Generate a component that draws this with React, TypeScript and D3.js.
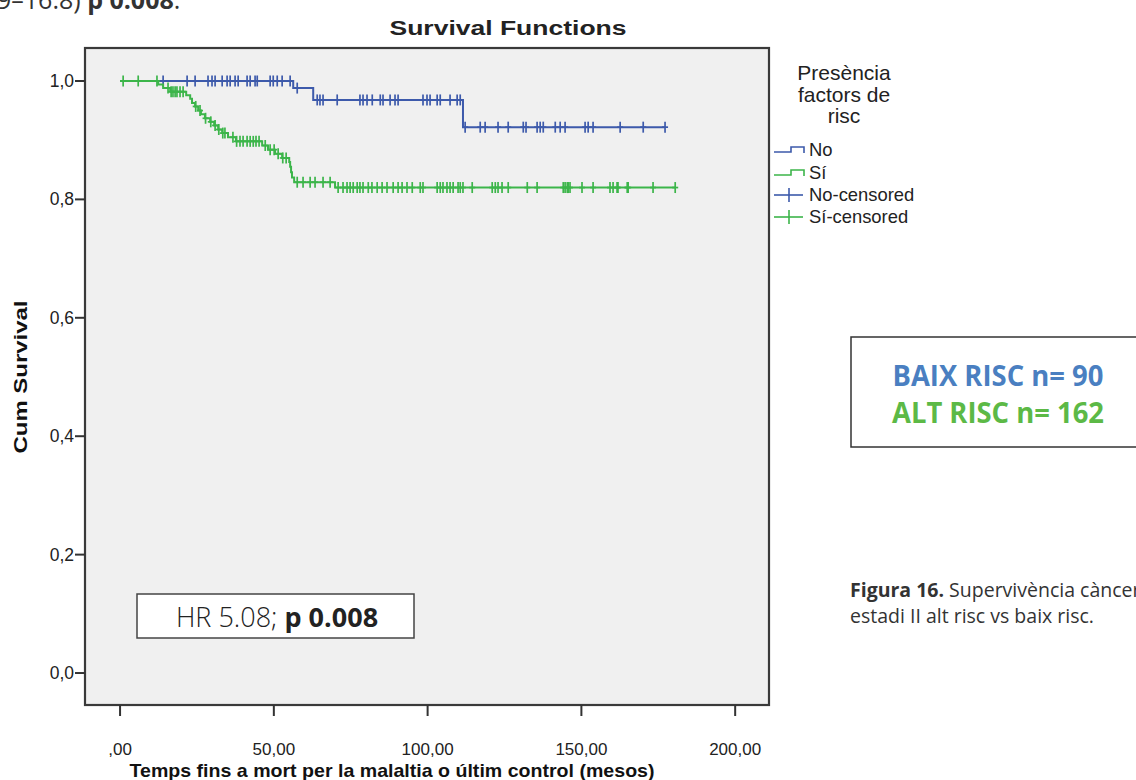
import React from "react";
import * as d3 from "d3";

// ---- Data ----
const blueTimes = [0, 56.3, 62.8, 111.5];
const blueSurv = [1, 0.988, 0.968, 0.922];
const blueLastTime = 177.2;
const blueCensored = [
  14.0, 21.8, 24.4, 28.6, 29.9, 30.9, 33.2, 34.8, 35.8, 37.4, 38.4, 41.3, 42.3, 43.9, 44.6, 48.8, 49.8, 51.1, 52.7, 55.3,
  57.6,
  64.1, 65.0, 66.0, 70.6, 78.0, 79.0, 80.3, 82.0, 84.6, 85.5, 87.8, 89.4, 90.4, 98.5, 99.8, 100.8, 103.1, 104.1, 107.3, 109.6, 110.6,
  112.2, 117.1, 118.7, 122.9, 126.2, 131.1, 132.0, 135.6, 136.6, 137.6, 141.5, 143.1, 144.7, 151.2, 152.2, 153.8, 162.6, 170.1, 177.2,
];

const greenTimes = [0, 12.4, 14.0, 16.3, 21.5, 22.8, 23.4, 24.4, 25.4, 26.3, 27.6, 29.3, 30.6, 31.9, 33.2, 35.1, 37.7, 46.2, 48.1, 50.4, 52.7, 55.0, 55.3, 55.6, 55.9, 56.6, 69.9];
const greenSurv = [1, 0.994, 0.988, 0.982, 0.976, 0.970, 0.963, 0.957, 0.950, 0.944, 0.937, 0.931, 0.925, 0.918, 0.912, 0.905, 0.898, 0.891, 0.884, 0.877, 0.870, 0.863, 0.855, 0.846, 0.837, 0.829, 0.820];
const greenLastTime = 180.5;
const greenCensored = [
  1.0, 5.9, 12.0,
  15.6, 16.6, 17.2, 17.9, 18.5, 19.5, 20.5,
  24.6, 26.0, 27.8, 29.5, 30.9, 32.1, 33.4, 34.1,
  36.7, 37.9, 39.0, 40.0, 41.3, 42.3, 43.3, 44.2, 45.2,
  47.2, 48.8, 50.1, 51.4, 52.9, 54.0,
  57.6, 59.5, 61.8, 63.4, 66.0, 68.3,
  70.9, 72.5, 73.8, 74.8, 75.8, 77.1, 78.0, 79.0, 80.7, 81.9, 83.6, 85.2, 86.8, 88.8, 90.4, 91.7, 93.3, 95.0, 97.6, 98.5,
  103.1, 104.1, 105.0, 106.3, 107.3, 108.3, 109.9, 110.6, 111.5, 114.5, 121.0, 122.0, 122.9, 124.2, 126.2, 132.4, 135.6,
  144.1, 144.7, 145.4, 145.7, 146.3, 150.2, 153.8, 159.3, 160.3, 161.6, 161.9, 164.9, 165.2, 173.3, 180.5,
];

const xTicks = [0, 50, 100, 150, 200];
const xTickLabels = [",00", "50,00", "100,00", "150,00", "200,00"];
const yTicks = [0, 0.2, 0.4, 0.6, 0.8, 1.0];
const yTickLabels = ["0,0", "0,2", "0,4", "0,6", "0,8", "1,0"];

const legendTitle = ["Presència", "factors de", "risc"];
const legendItems = ["No", "Sí", "No-censored", "Sí-censored"];

const BLUE = "#3d5aab";
const GREEN = "#3cb54a";
const SPSS = "'Liberation Sans', Arial, sans-serif";
const MYRIAD = "'Open Sans', 'Noto Sans', sans-serif";

const x = d3.scaleLinear().domain([-11.4, 211.0]).range([85, 769]);
const y = d3.scaleLinear().domain([-0.054, 1.0557]).range([705, 48]);

function survAt(times: number[], surv: number[], t: number) {
  const i = d3.bisectRight(times, t) - 1;
  return surv[Math.max(0, i)];
}

function stepPath(times: number[], surv: number[], last: number) {
  const pts: [number, number][] = times.map((t, i) => [t, surv[i]]);
  pts.push([last, surv[surv.length - 1]]);
  const line = d3
    .line<[number, number]>()
    .x((d) => x(d[0]))
    .y((d) => y(d[1]))
    .curve(d3.curveStepAfter);
  return line(pts) || "";
}

function Censors({ times, surv, cens, color }: { times: number[]; surv: number[]; cens: number[]; color: string }) {
  return (
    <g stroke={color} strokeWidth={1.7}>
      {cens.map((t, i) => {
        const cx = x(t);
        const cy = y(survAt(times, surv, t));
        return (
          <g key={i}>
            <line x1={cx} x2={cx} y1={cy - 5.5} y2={cy + 5.5} />
            <line x1={cx - 3} x2={cx + 3} y1={cy} y2={cy} />
          </g>
        );
      })}
    </g>
  );
}

export default function App() {
  React.useEffect(() => {
    document.body.style.margin = "0";
  }, []);
  const [x0, x1] = x.range();
  const [yb, yt] = y.range();
  const legendColors = [BLUE, GREEN, BLUE, GREEN];
  const legendBase = [156, 179, 201, 223];
  return (
    <svg width={1136} height={780} style={{ position: "absolute", left: 0, top: 0, background: "#fff" }}>
      {/* cropped text from page above */}
      <text x={-3} y={9} fontFamily={MYRIAD} fontSize={25} fill="#333">
        9–16.8) <tspan fontWeight="bold">p 0.008</tspan>.
      </text>

      {/* title */}
      <text x={508} y={35} textAnchor="middle" fontFamily={SPSS} fontWeight="bold" fontSize={20} textLength={237} lengthAdjust="spacingAndGlyphs" fill="#222">
        Survival Functions
      </text>

      {/* plot area */}
      <rect x={x0} y={yt} width={x1 - x0} height={yb - yt} fill="#f0f0f0" stroke="#3a3a3a" strokeWidth={2.2} />

      {/* y axis ticks */}
      {yTicks.map((v, i) => (
        <g key={i}>
          <line x1={x0 - 10} x2={x0} y1={y(v)} y2={y(v)} stroke="#333" strokeWidth={2} />
          <text x={x0 - 11} y={y(v) + 6} textAnchor="end" fontFamily={SPSS} fontSize={17.5} fill="#222">
            {yTickLabels[i]}
          </text>
        </g>
      ))}
      {/* x axis ticks */}
      {xTicks.map((v, i) => (
        <g key={i}>
          <line x1={x(v)} x2={x(v)} y1={yb} y2={yb + 11} stroke="#333" strokeWidth={2} />
          <text x={x(v)} y={yb + 50} textAnchor="middle" fontFamily={SPSS} fontSize={17} fill="#222">
            {xTickLabels[i]}
          </text>
        </g>
      ))}

      {/* axis titles */}
      <text transform="translate(27,377) rotate(-90)" textAnchor="middle" fontFamily={SPSS} fontWeight="bold" fontSize={19} textLength={153} lengthAdjust="spacingAndGlyphs" fill="#111">
        Cum Survival
      </text>
      <text x={392} y={777} textAnchor="middle" fontFamily={SPSS} fontWeight="bold" fontSize={18.5} textLength={525} lengthAdjust="spacingAndGlyphs" fill="#111">
        Temps fins a mort per la malaltia o últim control (mesos)
      </text>

      {/* curves */}
      <path d={stepPath(blueTimes, blueSurv, blueLastTime)} fill="none" stroke={BLUE} strokeWidth={2} />
      <Censors times={blueTimes} surv={blueSurv} cens={blueCensored} color={BLUE} />
      <path d={stepPath(greenTimes, greenSurv, greenLastTime)} fill="none" stroke={GREEN} strokeWidth={2} />
      <Censors times={greenTimes} surv={greenSurv} cens={greenCensored} color={GREEN} />

      {/* legend */}
      {legendTitle.map((s, i) => (
        <text key={i} x={844} y={80 + i * 21.5} textAnchor="middle" fontFamily={SPSS} fontSize={21} fill="#222">
          {s}
        </text>
      ))}
      {legendItems.map((s, i) => {
        const by = legendBase[i];
        const cy = by - 6;
        const c = legendColors[i];
        return (
          <g key={i}>
            {i < 2 ? (
              <path d={`M774,${cy + 2} H791 V${cy - 3} H804 V${cy + 3}`} fill="none" stroke={c} strokeWidth={1.6} />
            ) : (
              <g stroke={c} strokeWidth={1.6}>
                <line x1={774} x2={803} y1={cy} y2={cy} />
                <line x1={789} x2={789} y1={cy - 7} y2={cy + 7} />
              </g>
            )}
            <text x={809} y={by} fontFamily={SPSS} fontSize={18.4} fill="#222">
              {s}
            </text>
          </g>
        );
      })}

      {/* HR box */}
      <rect x={137} y={594} width={277} height={44} fill="#fff" stroke="#444" strokeWidth={1.5} />
      <text x={277} y={627} textAnchor="middle" fontFamily={MYRIAD} fontSize={27} fill="#222">
        <tspan fontWeight={300}>HR 5.08; </tspan>
        <tspan fontWeight="bold">p 0.008</tspan>
      </text>

      {/* sample size box */}
      <rect x={851} y={337} width={300} height={110} fill="#fff" stroke="#333" strokeWidth={1.5} />
      <text x={998} y={386} textAnchor="middle" fontFamily={MYRIAD} fontWeight="bold" fontSize={28} textLength={211} lengthAdjust="spacingAndGlyphs" fill="#4a7fc1">
        BAIX RISC n= 90
      </text>
      <text x={998} y={423} textAnchor="middle" fontFamily={MYRIAD} fontWeight="bold" fontSize={28} textLength={212} lengthAdjust="spacingAndGlyphs" fill="#5cb946">
        ALT RISC n= 162
      </text>

      {/* caption */}
      <text x={850} y={597} fontFamily={MYRIAD} fontSize={19.5} fill="#333">
        <tspan fontWeight="bold">Figura 16.</tspan> Supervivència càncer
      </text>
      <text x={850} y={623} fontFamily={MYRIAD} fontSize={19.5} fill="#333">
        estadi II alt risc vs baix risc.
      </text>
    </svg>
  );
}
